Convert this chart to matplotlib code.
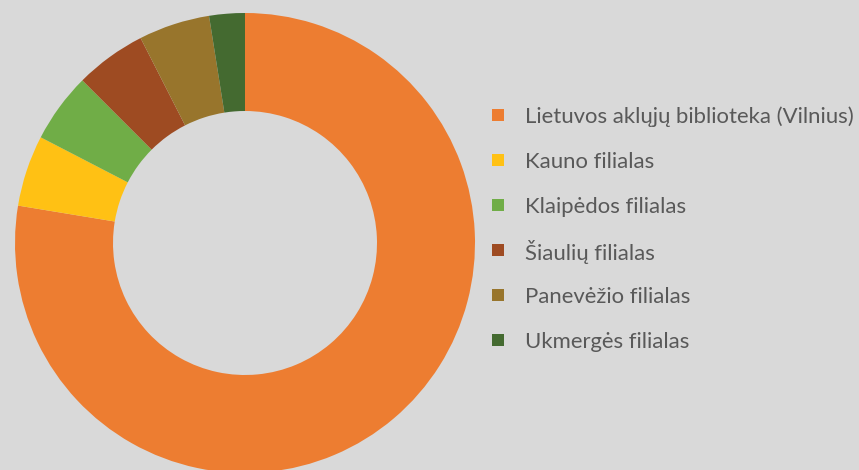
import matplotlib
matplotlib.use("Agg")
import matplotlib.pyplot as plt
from matplotlib.patches import Rectangle

labels = ["Lietuvos aklųjų biblioteka (Vilnius)", "Kauno filialas", "Klaipėdos filialas",
          "Šiaulių filialas", "Panevėžio filialas", "Ukmergės filialas"]
values = [77.6, 5.0, 4.9, 5.0, 5.0, 2.5]
colors = ["#ED7D31", "#FFC114", "#70AD47", "#9E4B22", "#98752C", "#446A30"]

W, H = 859, 470
bg = "#D9D9D9"
fig = plt.figure(figsize=(W / 100, H / 100), dpi=100, facecolor=bg)

cx, cy, R, r_in = 245, 243, 230, 132
ax = fig.add_axes([(cx - R) / W, (H - cy - R) / H, 2 * R / W, 2 * R / H])
ax.pie(values, colors=colors, startangle=90, counterclock=False, radius=1,
       wedgeprops=dict(width=1 - r_in / R, edgecolor="none"))
ax.set_xlim(-1, 1)
ax.set_ylim(-1, 1)
ax.axis("off")

# legend
x_sq, x_txt, y0, dy, sq = 492, 525, 115, 45, 12
for i, (lab, col) in enumerate(zip(labels, colors)):
    y = y0 + i * dy
    fig.patches.append(Rectangle(((x_sq) / W, (H - y - sq / 2) / H), sq / W, sq / H,
                                 transform=fig.transFigure, facecolor=col, edgecolor="none"))
    fig.text(x_txt / W, (H - y) / H, lab, fontsize=15.9, color="#595959",
             family="Lato", va="center_baseline", ha="left")

fig.savefig("out.png", dpi=100, facecolor=bg)
